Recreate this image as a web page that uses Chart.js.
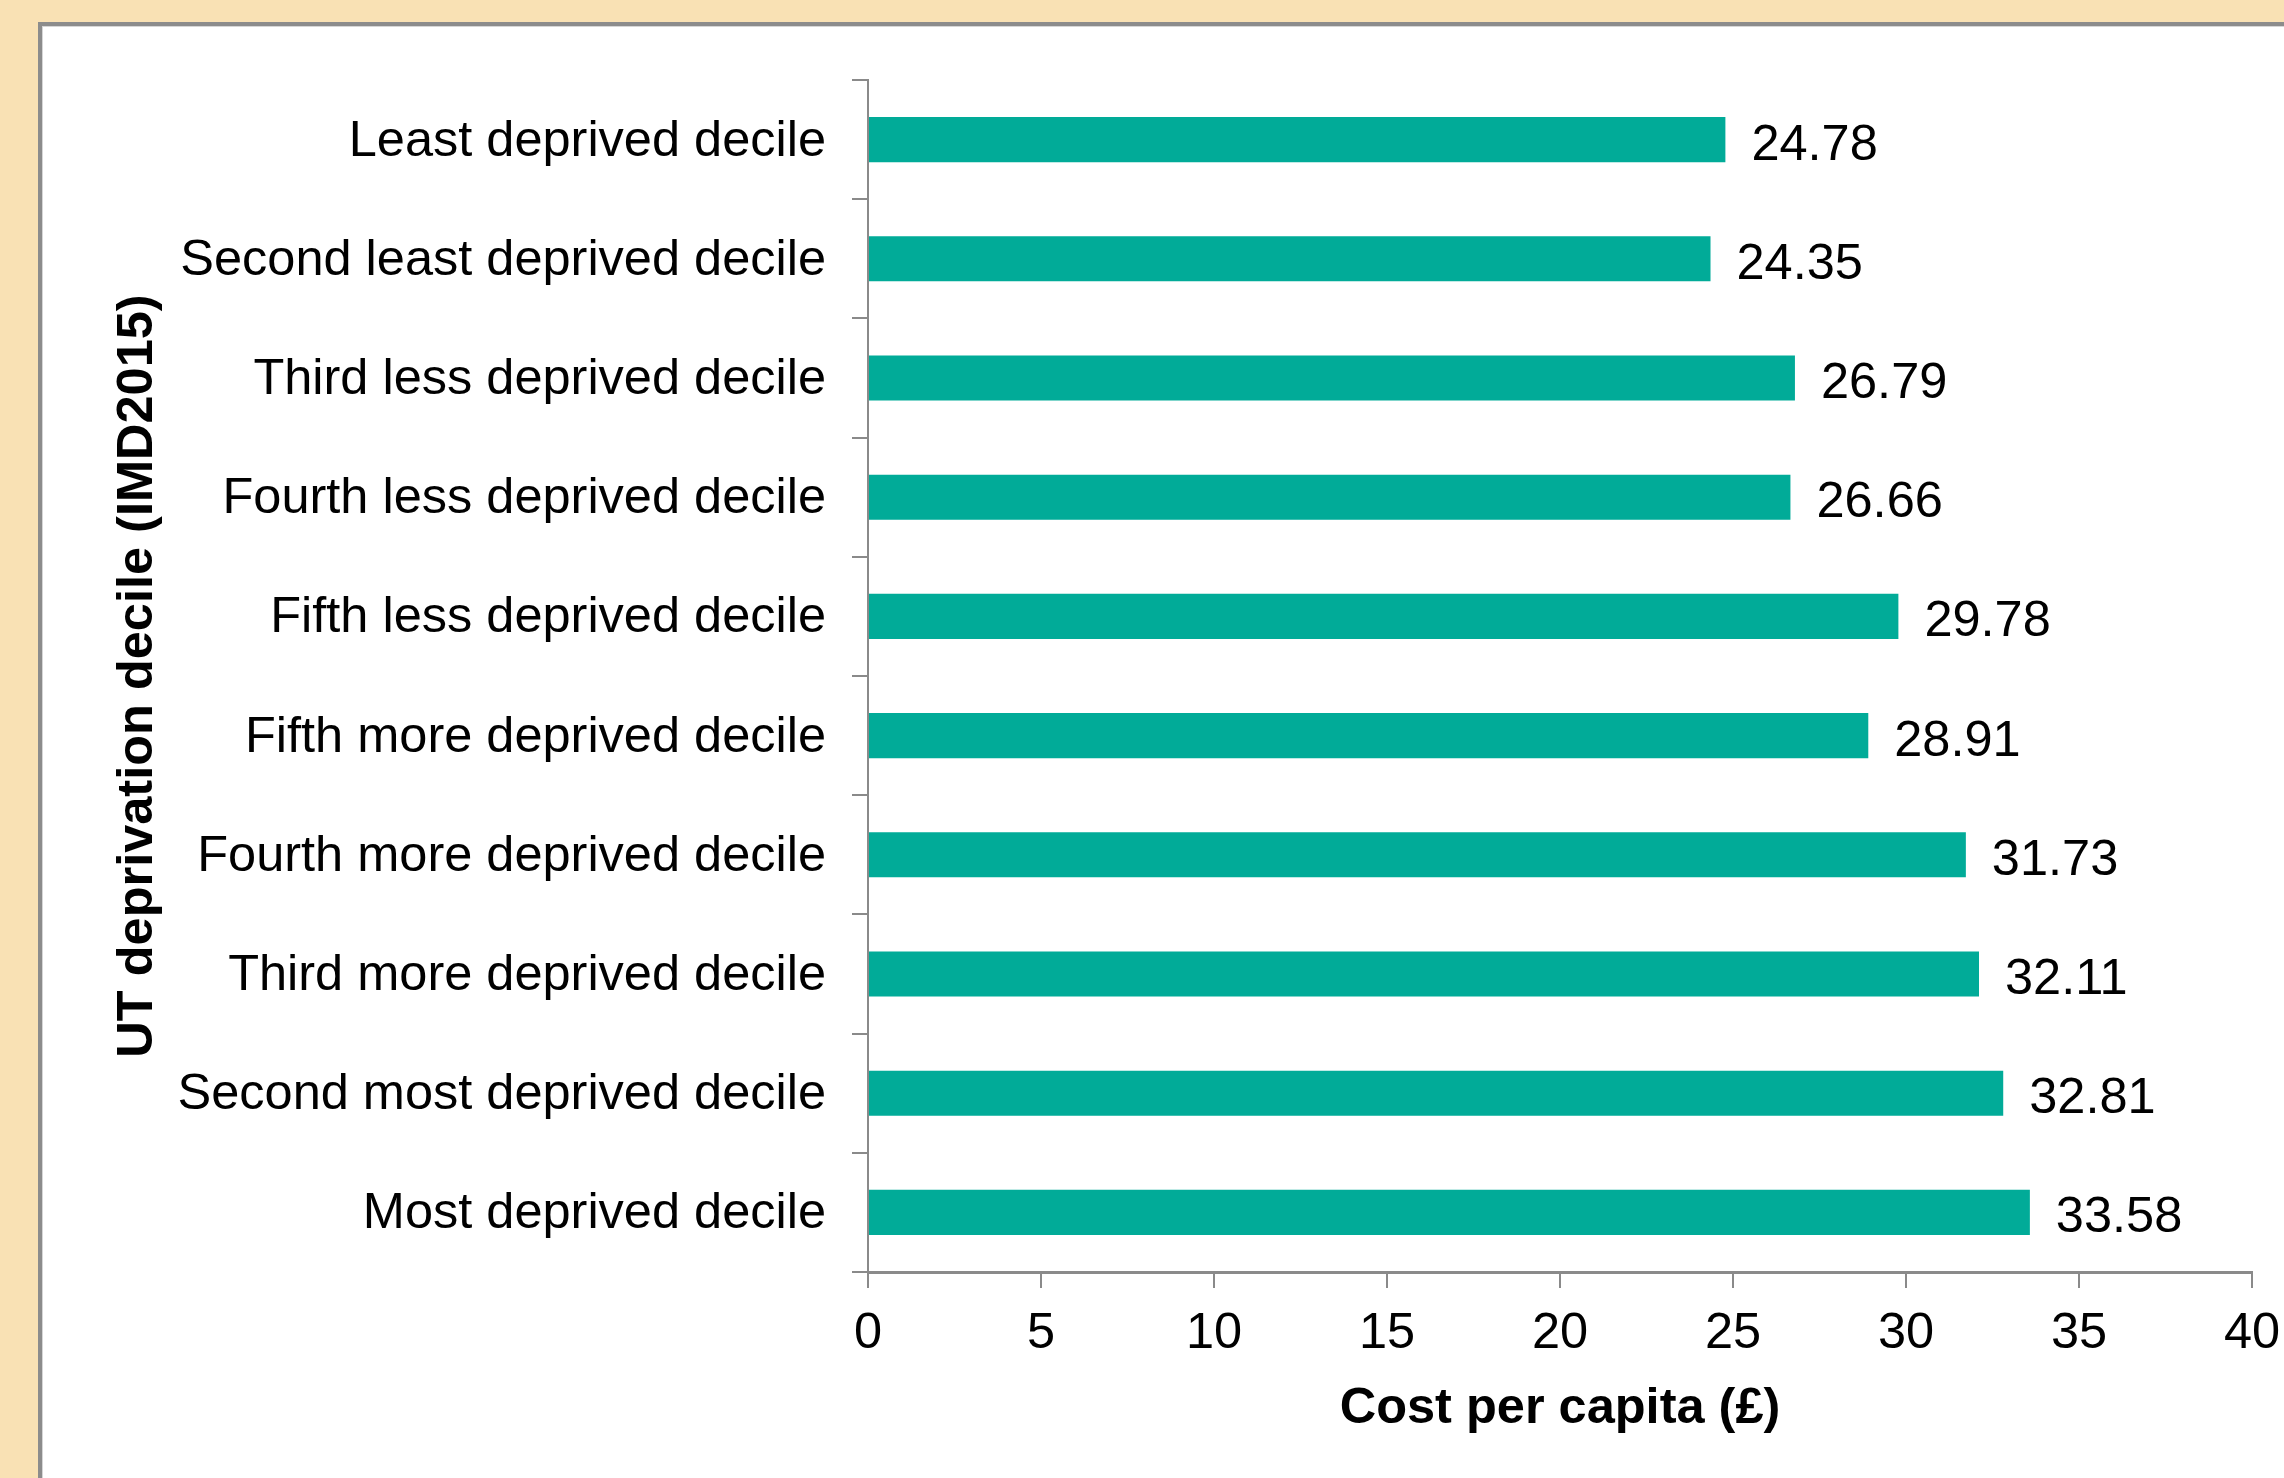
<!DOCTYPE html>
<html>
<head>
<meta charset="utf-8">
<script src="https://cdn.jsdelivr.net/npm/chart.js@4.4.1/dist/chart.umd.min.js"></script>
<style>
  html, body { margin: 0; padding: 0; }
  body { width: 2284px; height: 1478px; background: #f9e1b4; position: relative; overflow: hidden; }
  #panel {
    position: absolute; left: 38px; top: 22px; width: 2300px; height: 1500px;
    background: #fff; border-left: 4px solid #8c8c8c; border-top: 4px solid #8c8c8c;
    box-shadow: inset 1px 1px 0 #d6d6d6;
  }
  #grafico { position: absolute; left: 0; top: 0; }
</style>
</head>
<body>
<div id="panel"></div>
<canvas id="grafico" width="2284" height="1478"></canvas>
<script>
// datos
const categorias = [
  "Least deprived decile",
  "Second least deprived decile",
  "Third less deprived decile",
  "Fourth less deprived decile",
  "Fifth less deprived decile",
  "Fifth more deprived decile",
  "Fourth more deprived decile",
  "Third more deprived decile",
  "Second most deprived decile",
  "Most deprived decile"
];
const costes = [24.78, 24.35, 26.79, 26.66, 29.78, 28.91, 31.73, 32.11, 32.81, 33.58];
const ticksX = [0, 5, 10, 15, 20, 25, 30, 35, 40];

const fuente = "'Liberation Sans', Arial, sans-serif";
const gris = "#8a8a8a";

// etiquetas de valor a la derecha de cada barra
const etiquetasValor = {
  id: "etiquetasValor",
  afterDatasetsDraw(chart) {
    const ctx = chart.ctx;
    const meta = chart.getDatasetMeta(0);
    ctx.save();
    ctx.font = "50.5px " + fuente;
    ctx.fillStyle = "#000";
    ctx.textAlign = "left";
    ctx.textBaseline = "middle";
    meta.data.forEach((bar, i) => {
      ctx.fillText(costes[i].toFixed(2), bar.x + 26, bar.y + 6);
    });
    ctx.restore();
  }
};

new Chart(document.getElementById("grafico"), {
  type: "bar",
  data: {
    labels: categorias,
    datasets: [{
      data: costes,
      backgroundColor: "#01ab98",
      barPercentage: 0.378,
      categoryPercentage: 1
    }]
  },
  options: {
    indexAxis: "y",
    responsive: false,
    animation: false,
    devicePixelRatio: 1,
    layout: { padding: { left: 0, top: 80, right: 32, bottom: 0 } },
    plugins: { legend: { display: false }, tooltip: { enabled: false } },
    scales: {
      x: {
        min: 0,
        max: 40,
        afterBuildTicks: s => { s.ticks = ticksX.map(v => ({ value: v })); },
        afterFit: s => { s.height = 206; s.paddingLeft = 0; s.paddingRight = 0; },
        grid: { display: true, drawOnChartArea: false, drawTicks: true, tickLength: 16, color: gris, lineWidth: 2 },
        border: { display: true, color: gris, width: 3 },
        ticks: { color: "#000", font: { family: fuente, size: 50.5 }, padding: 16, maxRotation: 0 },
        title: {
          display: true,
          text: "Cost per capita (£)",
          color: "#000",
          font: { family: fuente, size: 50.5, weight: "bold" },
          padding: { top: 0, bottom: 39 }
        }
      },
      y: {
        afterFit: s => { s.width = 868; },
        grid: { display: true, offset: true, drawOnChartArea: false, drawTicks: true, tickLength: 16, color: gris, lineWidth: 2 },
        border: { display: true, color: gris, width: 2 },
        ticks: { color: "#000", font: { family: fuente, size: 50.5 }, padding: 26, labelOffset: 2, autoSkip: false },
        title: {
          display: true,
          text: "UT deprivation decile (IMD2015)",
          color: "#000",
          font: { family: fuente, size: 50.5, weight: "bold" },
          padding: { top: 108, bottom: 0 }
        }
      }
    }
  },
  plugins: [etiquetasValor]
});
</script>
</body>
</html>
